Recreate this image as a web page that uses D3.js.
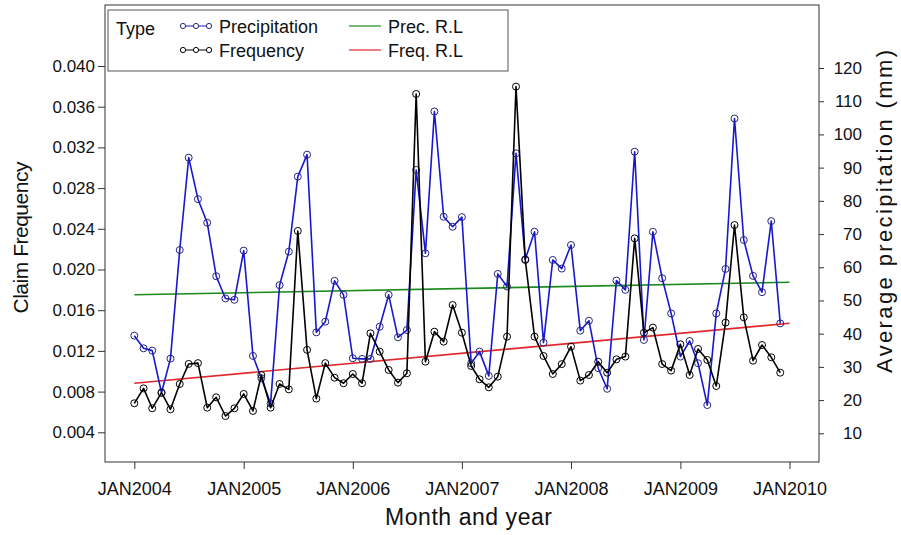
<!DOCTYPE html>
<html>
<head>
<meta charset="utf-8">
<script src="https://cdn.jsdelivr.net/npm/d3@7/dist/d3.min.js"></script>
<style>
  html, body { margin: 0; padding: 0; background: #fff; }
  svg { display: block; font-family: "Liberation Sans", Arial, Helvetica, sans-serif; }
</style>
</head>
<body>
<svg id="chart" width="901" height="535"></svg>
<script>
// Monthly series, January 2004 through December 2009
const years = [2004, 2005, 2006, 2007, 2008, 2009];

// Average precipitation (mm), right axis
const precipitation = [
  39.4, 35.6, 34.9, 22.2, 32.5, 65.2, 93.0, 80.5, 73.4, 57.3, 50.6, 50.2,
  65.0, 33.3, 26.6, 19.0, 54.6, 64.7, 87.3, 93.9, 40.4, 43.6, 55.9, 51.7,
  32.6, 32.4, 32.4, 42.1, 51.7, 38.9, 41.1, 89.3, 64.2, 106.9, 75.2, 72.2,
  75.1, 31.1, 34.6, 27.3, 58.0, 54.2, 94.3, 62.4, 70.7, 37.3, 62.2, 59.6,
  66.7, 40.9, 43.9, 29.6, 23.4, 56.0, 53.2, 94.8, 38.1, 70.7, 56.7, 46.1,
  33.1, 37.8, 31.1, 18.5, 46.1, 59.5, 104.8, 68.2, 57.4, 52.5, 73.9, 43.1
];

// Claim frequency, left axis
const frequency = [
  0.00685, 0.00832, 0.00636, 0.00790, 0.00626, 0.00875, 0.01072, 0.01080, 0.00642, 0.00744, 0.00560, 0.00636,
  0.00777, 0.00610, 0.00963, 0.00642, 0.00875, 0.00822, 0.02379, 0.01210, 0.00731, 0.01080, 0.00937, 0.00882,
  0.00973, 0.00882, 0.01373, 0.01193, 0.01013, 0.00888, 0.00980, 0.03725, 0.01094, 0.01389, 0.01291, 0.01651,
  0.01379, 0.01052, 0.00921, 0.00842, 0.00947, 0.01340, 0.03797, 0.02094, 0.01340, 0.01150, 0.00973, 0.01070,
  0.01242, 0.00908, 0.00963, 0.01094, 0.00986, 0.01117, 0.01144, 0.02306, 0.01379, 0.01429, 0.01071, 0.01006,
  0.01265, 0.00963, 0.01219, 0.01111, 0.00855, 0.01478, 0.02437, 0.01530, 0.01104, 0.01258, 0.01137, 0.00986
];

// Fitted regression lines, values at JAN2004 and JAN2010
const precFitEnds = [51.7, 55.5];
const freqFitEnds = [0.00882, 0.01471];

// Tick labels
const xTickLabels = ["JAN2004", "JAN2005", "JAN2006", "JAN2007", "JAN2008", "JAN2009", "JAN2010"];
const leftTicks = [0.004, 0.008, 0.012, 0.016, 0.020, 0.024, 0.028, 0.032, 0.036, 0.040];
const rightTicks = [10, 20, 30, 40, 50, 60, 70, 80, 90, 100, 110, 120];

const months = d3.range(precipitation.length).map(i => new Date(years[0], i, 1));
const xTickDates = xTickLabels.map((s, i) => new Date(years[0] + i, 0, 1));
const fitDates = [xTickDates[0], xTickDates[xTickDates.length - 1]];

const frame = { left: 105, right: 819, top: 5, bottom: 462 };

const x = d3.scaleTime()
  .domain([xTickDates[0], xTickDates[xTickDates.length - 1]])
  .range([134.3, 789.5]);
const yL = d3.scaleLinear().domain([0.004, 0.040]).range([432.3, 66]);
const yR = d3.scaleLinear().domain([10, 120]).range([433.3, 68]);

const svg = d3.select("#chart");

const colors = {
  prec: "#1717cf",
  precMarker: "#26267e",
  freq: "#000000",
  precFit: "#1a8a1a",
  freqFit: "#e3262b"
};

// Plot frame
svg.append("rect")
  .attr("x", frame.left).attr("y", frame.top)
  .attr("width", frame.right - frame.left)
  .attr("height", frame.bottom - frame.top)
  .attr("fill", "none").attr("stroke", "#333").attr("stroke-width", 1);

// Axes
const axisFont = g => g.selectAll("text").attr("fill", "#111");

const gx = svg.append("g")
  .attr("transform", `translate(0,${frame.bottom})`)
  .call(d3.axisBottom(x).tickValues(xTickDates).tickSize(7)
    .tickFormat((d, i) => xTickLabels[i]));
gx.select(".domain").remove();
gx.selectAll("text").attr("y", 33).attr("dy", 0).style("font-size", "18px");
gx.selectAll("line").attr("stroke", "#333");
axisFont(gx);

const gl = svg.append("g")
  .attr("transform", `translate(${frame.left},0)`)
  .call(d3.axisLeft(yL).tickValues(leftTicks).tickSize(7).tickPadding(3)
    .tickFormat(d3.format(".3f")));
gl.select(".domain").remove();
gl.selectAll("text").style("font-size", "17px");
gl.selectAll("line").attr("stroke", "#333");
axisFont(gl);

const gr = svg.append("g")
  .attr("transform", `translate(${frame.right},0)`)
  .call(d3.axisRight(yR).tickValues(rightTicks).tickSize(5).tickFormat(d3.format("d")));
gr.select(".domain").remove();
gr.selectAll("text").attr("x", 43).attr("text-anchor", "end").style("font-size", "17px");
gr.selectAll("line").attr("stroke", "#333");
axisFont(gr);

// Axis titles
svg.append("text")
  .attr("x", 468.5).attr("y", 525)
  .attr("text-anchor", "middle")
  .attr("textLength", 167).attr("lengthAdjust", "spacing")
  .style("font-size", "23px").attr("fill", "#111")
  .text("Month and year");

svg.append("text")
  .attr("transform", "translate(28,237.5) rotate(-90)")
  .attr("text-anchor", "middle")
  .attr("textLength", 152).attr("lengthAdjust", "spacing")
  .style("font-size", "21px").attr("fill", "#111")
  .text("Claim Frequency");

svg.append("text")
  .attr("transform", "translate(892,211.5) rotate(-90)")
  .attr("text-anchor", "middle")
  .attr("textLength", 323).attr("lengthAdjust", "spacing")
  .style("font-size", "22px").attr("fill", "#111")
  .text("Average precipitation (mm)");

// Regression lines
const fitLine = d3.line().x(d => x(d[0])).y(d => d[1]);
svg.append("path")
  .attr("d", fitLine(fitDates.map((d, i) => [d, yR(precFitEnds[i])])))
  .attr("fill", "none").attr("stroke", colors.precFit).attr("stroke-width", 1.6);
svg.append("path")
  .attr("d", fitLine(fitDates.map((d, i) => [d, yL(freqFitEnds[i])])))
  .attr("fill", "none").attr("stroke", colors.freqFit).attr("stroke-width", 1.6);

// Series lines and markers
function drawSeries(values, yScale, lineColor, markerColor) {
  const pts = values.map((v, i) => [x(months[i]), yScale(v)]);
  svg.append("path")
    .attr("d", d3.line()(pts))
    .attr("fill", "none").attr("stroke", lineColor)
    .attr("stroke-width", 1.6).attr("stroke-linejoin", "round");
  svg.append("g").selectAll("circle").data(pts).join("circle")
    .attr("cx", d => d[0]).attr("cy", d => d[1]).attr("r", 3.5)
    .attr("fill", "none").attr("stroke", markerColor).attr("stroke-width", 1);
}
drawSeries(precipitation, yR, colors.prec, colors.precMarker);
drawSeries(frequency, yL, colors.freq, colors.freq);

// Legend
const lg = svg.append("g");
lg.append("rect")
  .attr("x", 108).attr("y", 10).attr("width", 400).attr("height", 61)
  .attr("fill", "#fff").attr("stroke", "#555").attr("stroke-width", 1);
lg.append("text").attr("x", 116).attr("y", 35).style("font-size", "18px")
  .attr("fill", "#111").text("Type");

const legendRows = [
  { label: "Precipitation", color: colors.prec, marker: colors.precMarker, y: 26,
    fitLabel: "Prec. R.L", fitColor: colors.precFit },
  { label: "Frequency", color: colors.freq, marker: colors.freq, y: 50,
    fitLabel: "Freq. R.L", fitColor: colors.freqFit }
];
legendRows.forEach(r => {
  lg.append("line").attr("x1", 180).attr("x2", 212).attr("y1", r.y).attr("y2", r.y)
    .attr("stroke", r.color).attr("stroke-width", 1);
  [183, 196, 209].forEach(cx => lg.append("circle")
    .attr("cx", cx).attr("cy", r.y).attr("r", 2.6)
    .attr("fill", "#fff").attr("stroke", r.marker).attr("stroke-width", 1));
  lg.append("text").attr("x", 219).attr("y", r.y + 7).style("font-size", "18px")
    .attr("fill", "#111").text(r.label);
  lg.append("line").attr("x1", 349).attr("x2", 381).attr("y1", r.y).attr("y2", r.y)
    .attr("stroke", r.fitColor).attr("stroke-width", 1.2);
  lg.append("text").attr("x", 388).attr("y", r.y + 7).style("font-size", "18px")
    .attr("fill", "#111").text(r.fitLabel);
});
</script>
</body>
</html>
